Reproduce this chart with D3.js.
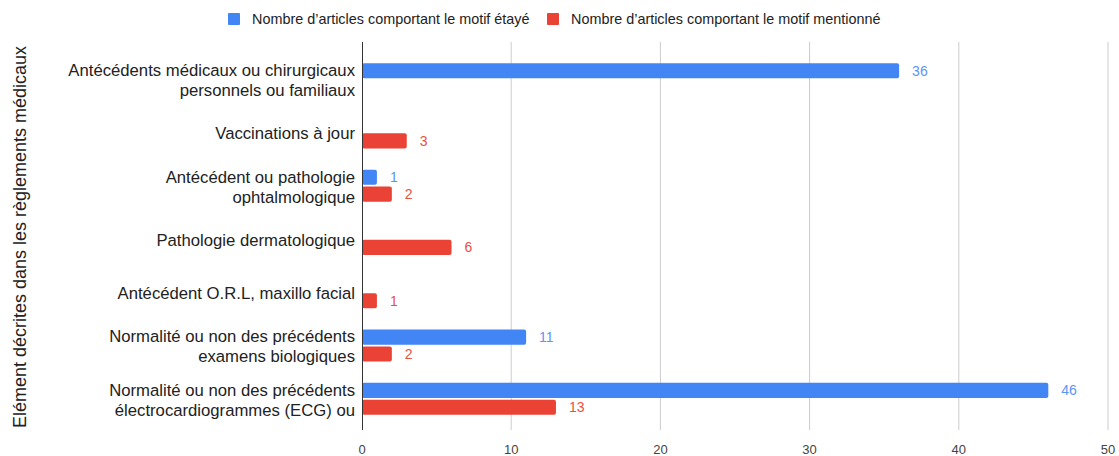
<!DOCTYPE html>
<html>
<head>
<meta charset="utf-8">
<script src="https://cdn.jsdelivr.net/npm/d3@7"></script>
<style>
  body { margin: 0; background: #fff; }
  svg { font-family: "Liberation Sans", Arial, sans-serif; }
</style>
</head>
<body>
<script>
(function(){

    //chart data
    var categories = [
        ["Antécédents médicaux ou chirurgicaux", "personnels ou familiaux"],
        ["Vaccinations à jour"],
        ["Antécédent ou pathologie", "ophtalmologique"],
        ["Pathologie dermatologique"],
        ["Antécédent O.R.L, maxillo facial"],
        ["Normalité ou non des précédents", "examens biologiques"],
        ["Normalité ou non des précédents", "électrocardiogrammes (ECG) ou"]
    ];
    var seriesNames = ["Nombre d’articles comportant le motif étayé", "Nombre d’articles comportant le motif mentionné"];
    var etaye = [36, 0, 1, 0, 0, 11, 46];
    var mentionne = [0, 3, 2, 6, 1, 2, 13];
    var xTicks = [0, 10, 20, 30, 40, 50];
    var yTitle = "Elément décrites dans les règlements médicaux";

    var colors = ["#4285F4", "#EA4335"];
    var labelColors = ["#5b95f5", "#ea4f43"];

    var width = 1119, height = 456;
    var left = 362, right = 1108, top = 42, bottom = 430;

    var svg = d3.select("body").append("svg")
        .attr("width", width)
        .attr("height", height);

    //scales
    var x = d3.scaleLinear().domain([0, 50]).range([left, right]);
    var y = d3.scaleBand()
        .domain(d3.range(categories.length))
        .range([52.5, 425.5]);
    var sub = d3.scaleBand()
        .domain([0, 1])
        .range([-16, 16])
        .paddingInner(0.1);

    //gridlines
    svg.append("g").selectAll("line")
        .data(xTicks.filter(function(d){ return d > 0; }))
        .enter().append("line")
        .attr("x1", function(d){ return x(d); })
        .attr("x2", function(d){ return x(d); })
        .attr("y1", top)
        .attr("y2", bottom)
        .attr("stroke", "#cccccc")
        .attr("stroke-width", 1);

    //x tick labels
    svg.append("g").selectAll("text")
        .data(xTicks)
        .enter().append("text")
        .attr("x", function(d){ return x(d); })
        .attr("y", 449)
        .attr("dy", "0.35em")
        .attr("text-anchor", "middle")
        .attr("font-size", 13)
        .attr("fill", "#444")
        .text(function(d){ return d; });

    //bars
    var series = [etaye, mentionne];
    series.forEach(function(vals, s){
        var g = svg.append("g");
        var items = vals.map(function(v, i){ return {v: v, i: i}; })
            .filter(function(d){ return d.v > 0; });
        g.selectAll("rect")
            .data(items)
            .enter().append("rect")
            .attr("x", x(0))
            .attr("y", function(d){ return y(d.i) + y.bandwidth() / 2 + sub(s); })
            .attr("width", function(d){ return x(d.v) - x(0); })
            .attr("height", sub.bandwidth())
            .attr("rx", 2)
            .attr("fill", colors[s]);
        g.selectAll("text")
            .data(items)
            .enter().append("text")
            .attr("x", function(d){ return x(d.v) + 13; })
            .attr("y", function(d){ return y(d.i) + y.bandwidth() / 2 + sub(s) + sub.bandwidth() / 2; })
            .attr("dy", "0.35em")
            .attr("font-size", 14)
            .attr("fill", labelColors[s])
            .text(function(d){ return d.v; });
    });

    //axis line
    svg.append("line")
        .attr("x1", left + 0.5).attr("x2", left + 0.5)
        .attr("y1", top).attr("y2", bottom)
        .attr("stroke", "#333")
        .attr("stroke-width", 1);

    //category labels
    var lineH = 20;
    var cat = svg.append("g").selectAll("text")
        .data(categories)
        .enter().append("text")
        .attr("text-anchor", "end")
        .attr("font-size", 16.7)
        .attr("fill", "#222");
    cat.each(function(lines, i){
        var t = d3.select(this);
        var cy = y(i) + y.bandwidth() / 2 + 1;
        lines.forEach(function(line, k){
            t.append("tspan")
                .attr("x", 355)
                .attr("y", cy + (k - (lines.length - 1) / 2) * lineH)
                .attr("dy", "0.35em")
                .text(line);
        });
    });

    //y axis title
    svg.append("text")
        .attr("transform", "translate(20," + ((top + bottom) / 2 + 1) + ") rotate(-90)")
        .attr("text-anchor", "middle")
        .attr("dy", "0.35em")
        .attr("font-size", 18)
        .attr("fill", "#222")
        .text(yTitle);

    //legend
    var legendX = [228, 547];
    seriesNames.forEach(function(name, s){
        svg.append("rect")
            .attr("x", legendX[s])
            .attr("y", 13)
            .attr("width", 12)
            .attr("height", 12)
            .attr("rx", 1)
            .attr("fill", colors[s]);
        svg.append("text")
            .attr("x", legendX[s] + 24)
            .attr("y", 19)
            .attr("dy", "0.35em")
            .attr("font-size", 14.4)
            .attr("fill", "#222")
            .text(name);
    });
})();
</script>
</body>
</html>
